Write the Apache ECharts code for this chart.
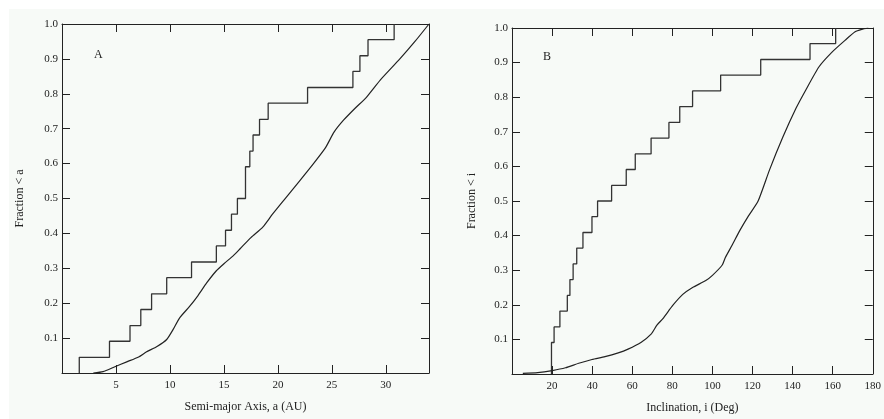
<!DOCTYPE html>
<html>
<head>
<meta charset="utf-8">
<script src="https://cdn.jsdelivr.net/npm/echarts@6/dist/echarts.min.js"></script>
<style>
  html, body { margin: 0; padding: 0; background: #ffffff; }
  #chart { width: 884px; height: 419px; }
</style>
</head>
<body>
<div id="chart"></div>
<script>
// panel A: semi-major axis
const aStepX = [1.6, 1.6, 4.4, 6.3, 7.3, 8.3, 9.7, 12.0, 14.3, 15.15, 15.7, 16.25, 17.0, 17.4, 17.7, 18.3, 19.1, 22.75, 26.95, 27.6, 28.35, 30.77];
const aStepFrac = [0, 0.045, 0.091, 0.136, 0.182, 0.227, 0.273, 0.318, 0.364, 0.409, 0.455, 0.5, 0.591, 0.636, 0.682, 0.727, 0.773, 0.818, 0.864, 0.909, 0.955, 1.0];
const aModelX = [2.9, 3.8, 4.9, 6.0, 7.1, 7.8, 8.8, 9.7, 10.3, 10.9, 11.8, 12.6, 13.4, 14.3, 15.0, 15.9, 16.5, 17.5, 18.6, 19.5, 20.6, 22.0, 23.3, 24.4, 25.2, 26.1, 27.2, 28.2, 29.5, 31.3, 32.7, 34.0];
const aModelFrac = [0, 0.004, 0.018, 0.032, 0.046, 0.06, 0.076, 0.096, 0.125, 0.158, 0.19, 0.222, 0.258, 0.293, 0.313, 0.337, 0.356, 0.388, 0.418, 0.455, 0.497, 0.55, 0.6, 0.645, 0.69, 0.725, 0.76, 0.79, 0.84, 0.9, 0.95, 1.0];

// panel B: inclination
const iStepX = [19.7, 19.7, 21.0, 23.9, 27.6, 28.9, 30.5, 32.3, 35.4, 39.9, 42.7, 49.7, 57.0, 61.5, 69.4, 78.3, 83.7, 90.1, 104.1, 124.1, 148.7, 161.5];
const iStepFrac = [0, 0.091, 0.136, 0.182, 0.227, 0.273, 0.318, 0.364, 0.409, 0.455, 0.5, 0.545, 0.591, 0.636, 0.682, 0.727, 0.773, 0.818, 0.864, 0.909, 0.955, 1.0];
const iModelX = [5.4, 12.8, 20.1, 26.7, 33.3, 39.9, 46.4, 53.0, 57.9, 64.5, 69.4, 72.4, 75.3, 80.2, 85.2, 90.1, 96.7, 100.0, 104.9, 106.4, 109.8, 113.7, 118.0, 122.8, 128.5, 135.1, 141.7, 146.6, 153.2, 159.8, 166.3, 171.2, 174.5, 177.8];
const iModelFrac = [0.002, 0.004, 0.01, 0.018, 0.031, 0.042, 0.05, 0.061, 0.072, 0.092, 0.115, 0.142, 0.16, 0.198, 0.23, 0.25, 0.27, 0.285, 0.315, 0.336, 0.372, 0.415, 0.457, 0.5, 0.59, 0.684, 0.768, 0.821, 0.888, 0.931, 0.965, 0.989, 0.996, 1.0];

const FONT = "Liberation Serif";
const INK = "#222";

const zip = (xs, ys) => xs.map((x, i) => [x, ys[i]]);

const tick = { show: true, inside: true, length: 8, lineStyle: { color: INK, width: 1 } };
const line = { show: true, onZero: false, lineStyle: { color: INK, width: 1 } };

function xAxes(grid, max, interval, name) {
  return [
    {
      type: "value", gridIndex: grid, position: "bottom", min: 0, max, interval,
      name, nameLocation: "middle", nameGap: 28,
      nameTextStyle: { fontFamily: FONT, fontSize: 12, color: INK },
      axisLine: line, axisTick: tick, splitLine: { show: false },
      axisLabel: {
        fontFamily: FONT, fontSize: 11, color: INK, margin: 7,
        formatter: (v) => (v === 0 || v % interval !== 0 ? "" : String(v)),
      },
    },
    {
      type: "value", gridIndex: grid, position: "top", min: 0, max, interval,
      axisLine: line, axisTick: tick, axisLabel: { show: false },
      splitLine: { show: false },
    },
  ];
}

function yAxes(grid, name, gap) {
  return [
    {
      type: "value", gridIndex: grid, position: "left", min: 0, max: 1, interval: 0.1,
      name, nameLocation: "middle", nameGap: gap,
      nameTextStyle: { fontFamily: FONT, fontSize: 12, color: INK },
      axisLine: line, axisTick: tick, splitLine: { show: false },
      axisLabel: {
        fontFamily: FONT, fontSize: 11, color: INK, margin: 4,
        formatter: (v) => (v === 0 ? "" : v.toFixed(1)),
      },
    },
    {
      type: "value", gridIndex: grid, position: "right", min: 0, max: 1, interval: 0.1,
      axisLine: line, axisTick: tick, axisLabel: { show: false },
      splitLine: { show: false },
    },
  ];
}

const chart = echarts.init(document.getElementById("chart"), null, { renderer: "canvas" });

chart.setOption({
  backgroundColor: "#ffffff",
  animation: false,
  graphic: [
    { type: "rect", z: -10, shape: { x: 9, y: 9, width: 875, height: 410 }, style: { fill: "#f7faf7" } },
  ],
  title: [
    { text: "A", left: 89, top: 44, textStyle: { fontFamily: FONT, fontSize: 12, fontWeight: "normal", color: INK } },
    { text: "B", left: 538, top: 46, textStyle: { fontFamily: FONT, fontSize: 12, fontWeight: "normal", color: INK } },
  ],
  grid: [
    { left: 62, top: 24, width: 367, height: 349, show: false },
    { left: 512, top: 28, width: 364, height: 347, show: false },
  ],
  xAxis: [...xAxes(0, 34, 5, "Semi-major Axis, a (AU)"), ...xAxes(1, 180, 20, "Inclination, i (Deg)")],
  yAxis: [...yAxes(0, "Fraction < a", 36), ...yAxes(1, "Fraction < i", 34)],
  series: [
    {
      type: "line", xAxisIndex: 0, yAxisIndex: 0, step: "end", showSymbol: false,
      data: zip(aStepX, aStepFrac), lineStyle: { color: "#333", width: 1.3 },
    },
    {
      type: "line", xAxisIndex: 0, yAxisIndex: 0, showSymbol: false, smooth: 0.2,
      data: zip(aModelX, aModelFrac), lineStyle: { color: "#222", width: 1.2 },
    },
    {
      type: "line", xAxisIndex: 2, yAxisIndex: 2, step: "end", showSymbol: false,
      data: zip(iStepX, iStepFrac), lineStyle: { color: "#333", width: 1.3 },
    },
    {
      type: "line", xAxisIndex: 2, yAxisIndex: 2, showSymbol: false, smooth: 0.2,
      data: zip(iModelX, iModelFrac), lineStyle: { color: "#222", width: 1.2 },
    },
  ],
});

window.addEventListener("resize", () => chart.resize());
</script>
</body>
</html>
